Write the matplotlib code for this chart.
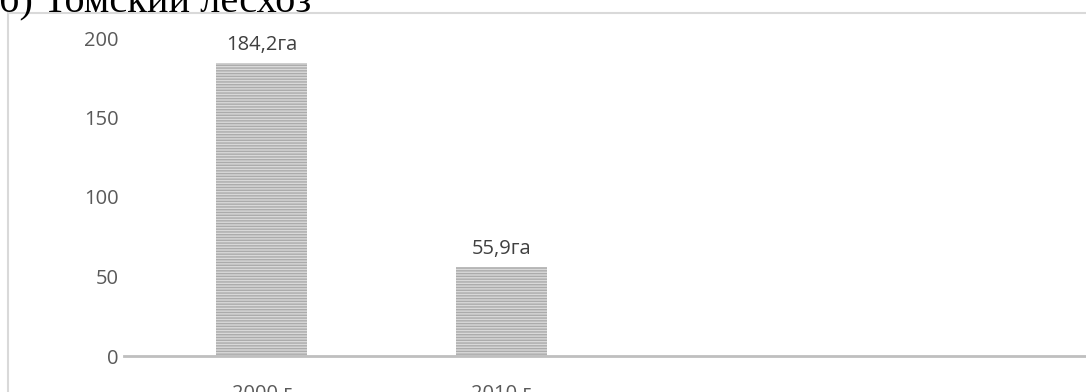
import matplotlib.pyplot as plt
from matplotlib.patches import Rectangle

# данные
years = ["2000 г", "2010 г", "", ""]
area = [184.2, 55.9]
value_labels = ["184,2га", "55,9га"]
y_ticks = [0, 50, 100, 150, 200]
title = "б) Томский лесхоз"

W, H = 1086, 392
fig = plt.figure(figsize=(W / 100, H / 100), dpi=100)
fig.patch.set_facecolor("white")

# рамка диаграммы (обрезана справа и снизу)
frame = Rectangle((8 / W, -0.1), 1.2, (H - 13) / H + 0.1, transform=fig.transFigure,
                  fill=False, edgecolor="#d9d9d9", linewidth=1.5)
fig.patches.append(frame)

fig.text(-1 / W, 1 - 12 / H, title, fontsize=29, family="Liberation Serif",
         color="black", ha="left", va="baseline")

# оси: y=0 на 356px, y=200 на 38px
y0, y200 = 356, 38
bottom = (H - y0) / H
top = (H - y200) / H
ax = fig.add_axes([124 / W, bottom, 1 - 124 / W, top - bottom])
ax.set_ylim(0, 200)
cat_w = 240.0
xl = -(261.5 - 124) / cat_w
xr = (1086 - 261.5) / cat_w
ax.set_xlim(xl, xr)

bars = ax.bar(range(len(area)), area, width=91 / cat_w, color="#d9d9d9",
              edgecolor="#ababab", linewidth=0, hatch="------", zorder=2)

for i, (v, lab) in enumerate(zip(area, value_labels)):
    ax.annotate(lab, (i, v), xytext=(0, 8), textcoords="offset pixels",
                ha="center", va="bottom", fontsize=14.5, family="Open Sans",
                color="#404040")

for s in ["top", "right", "left"]:
    ax.spines[s].set_visible(False)
ax.spines["bottom"].set_color("#bfbfbf")
ax.spines["bottom"].set_linewidth(2)
ax.spines["bottom"].set_zorder(3)

ax.set_yticks(y_ticks)
ax.set_yticklabels([str(t) for t in y_ticks], family="Open Sans", fontsize=14.5, color="#595959")
ax.tick_params(axis="y", length=0, pad=4)
ax.set_xticks(range(len(years)))
ax.set_xticklabels(years, family="Open Sans", fontsize=14.5, color="#595959")
ax.tick_params(axis="x", length=0, pad=20)
ax.patch.set_alpha(0)

fig.savefig("out.png", dpi=100)
